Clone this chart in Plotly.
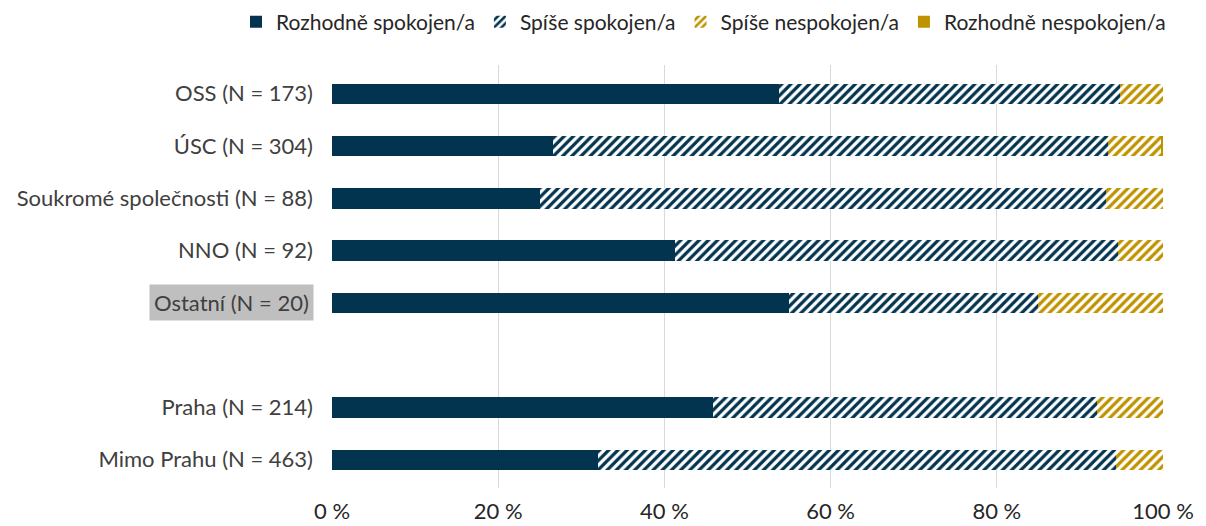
import plotly.graph_objects as go

categories = ["OSS (N = 173)", "ÚSC (N = 304)", "Soukromé společnosti (N = 88)", "NNO (N = 92)",
              "Ostatní (N = 20)", "", "Praha (N = 214)", "Mimo Prahu (N = 463)"]
rozhodne_spokojen = [53.8, 26.6, 25.0, 41.3, 55.0, None, 45.8, 32.0]
spise_spokojen = [41.0, 66.8, 68.2, 53.3, 30.0, None, 46.3, 62.4]
spise_nespokojen = [5.2, 6.3, 6.8, 5.4, 15.0, None, 7.9, 5.6]
rozhodne_nespokojen = [0.0, 0.3, 0.0, 0.0, 0.0, None, 0.0, 0.0]
series_names = ["Rozhodně spokojen/a", "Spíše spokojen/a", "Spíše nespokojen/a", "Rozhodně nespokojen/a"]
x_ticks = [0, 20, 40, 60, 80, 100]
x_ticklabels = ["0 %", "20 %", "40 %", "60 %", "80 %", "100 %"]

DARK = "#03344F"
GOLD = "#BF9300"
FONT = "Lato"
FS = 22

ypos = list(range(len(categories)))
fig = go.Figure()
series = [rozhodne_spokojen, spise_spokojen, spise_nespokojen, rozhodne_nespokojen]
styles = [
    dict(color=DARK, pattern=None),
    dict(color=DARK, pattern=dict(shape="/", bgcolor="white", size=6.5, solidity=0.5, fillmode="replace")),
    dict(color=GOLD, pattern=dict(shape="/", bgcolor="white", size=6.5, solidity=0.5, fillmode="replace")),
    dict(color=GOLD, pattern=None),
]
for name, vals, st in zip(series_names, series, styles):
    marker = dict(color=st["color"], line=dict(width=0))
    if st["pattern"]:
        marker["pattern"] = st["pattern"]
    fig.add_trace(go.Bar(
        y=ypos, x=vals, name=name, orientation="h", width=0.39, marker=marker,
        hoverinfo="x+name",
    ))

ticktext = [c if c != "Ostatní (N = 20)" else "" for c in categories]
fig.add_annotation(
    x=0, xref="paper", xanchor="right", xshift=-18, y=categories.index("Ostatní (N = 20)"), yref="y",
    text="Ostatní (N = 20)", showarrow=False, bgcolor="#BFBFBF",
    font=dict(family=FONT, size=FS, color="#404040"), borderpad=4,
)

W, H = 1198, 518
L, R, T, B = 324, 43, 57, 38
PW, PH = W - L - R, H - T - B
fig.update_layout(
    barmode="stack",
    width=W, height=H,
    margin=dict(l=L, r=R, t=T, b=B, autoexpand=False),
    plot_bgcolor="white", paper_bgcolor="white",
    font=dict(family=FONT, size=FS, color="#404040"),
    legend=dict(orientation="h", xref="paper", x=(228 - L) / PW, xanchor="left",
                yref="paper", y=1 + (T - 14) / PH, yanchor="middle",
                font=dict(family=FONT, size=21, color="#262626"), traceorder="normal",
                itemwidth=30, tracegroupgap=0),
    xaxis=dict(range=[0, 100], tickvals=x_ticks, ticktext=x_ticklabels, showgrid=True,
               gridcolor="#D9D9D9", gridwidth=1, zeroline=False, ticks="", showline=False,
               ticklabelstandoff=8, tickfont=dict(family=FONT, size=FS, color="#262626")),
    yaxis=dict(range=[7.54, -0.55], tickvals=ypos, ticktext=ticktext, showgrid=False,
               zeroline=False, ticks="", showline=False, ticklabelstandoff=18,
               tickfont=dict(family=FONT, size=FS, color="#404040")),
)
fig.write_html("out.html")
